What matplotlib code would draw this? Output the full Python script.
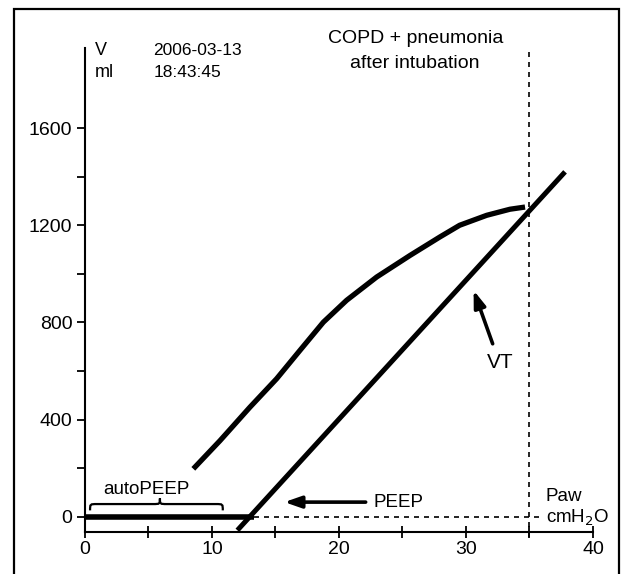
import numpy as np
import matplotlib
matplotlib.use("Agg")
import matplotlib.pyplot as plt
from matplotlib.patches import Rectangle, PathPatch
from matplotlib.path import Path

plt.rcParams['font.family'] = ['Liberation Sans', 'DejaVu Sans']

# upper (expiratory) limb
upper_p = [8.53, 10.63, 12.99, 15.09, 16.93, 18.77, 20.6, 22.97, 25.6, 27.95, 29.5, 31.63, 33.46, 34.65]
upper_v = [197, 313, 451, 568, 685, 801, 891, 987, 1076, 1152, 1200, 1241, 1266, 1275]
# lower (inspiratory) limb
lower_p = [12.0, 37.8]
lower_v = [-56, 1420]
# baseline at autoPEEP level
base_p = [0.0, 13.3]
base_v = [0, 0]
peak_p = 35
autopeep_span = [0.4, 10.85]

fig = plt.figure(figsize=(6.24, 5.74), dpi=100)
ax = fig.add_axes([0.1362, 0.0732, 0.8141, 0.8432])

ax.plot(upper_p, upper_v, color='black', lw=3.8, solid_capstyle='butt', solid_joinstyle='round')
ax.plot(lower_p, lower_v, color='black', lw=3.6, solid_capstyle='butt', clip_on=False)
ax.plot(base_p, base_v, color='black', lw=4.0, solid_capstyle='butt')
ax.plot([13.3, 36.0], [0, 0], color='black', lw=1.2, ls=(0, (3, 3)), clip_on=False)
ax.plot([peak_p, peak_p], [-85, 1930], color='black', lw=1.2, ls=(0, (3, 3)), clip_on=False)

ax.set_xlim(0, 40)
ax.set_ylim(-63, 1930)
ax.spines['top'].set_visible(False)
ax.spines['right'].set_visible(False)
ax.spines['left'].set_linewidth(1.5)
ax.spines['bottom'].set_linewidth(1.5)
ax.set_xticks([0, 10, 20, 30, 40])
ax.set_xticks([5, 15, 25, 35], minor=True)
ax.set_yticks([0, 400, 800, 1200, 1600])
ax.set_yticks([200, 600, 1000, 1400], minor=True)
ax.tick_params(axis='both', which='both', width=1.3, labelsize=14)
ax.tick_params(axis='x', which='both', direction='inout', length=9, pad=2)
ax.tick_params(axis='y', which='both', direction='out', length=6, pad=3)

# brace over autoPEEP
x0, x1 = autopeep_span
xc = 5.9
yb, ym, yt = 26, 52, 75
r = 0.55
verts = [(x0, yb), (x0, ym), (x0, ym), (x0 + r, ym),
         (xc - r, ym), (xc, ym), (xc, ym), (xc, yt),
         (xc, ym), (xc, ym), (xc + r, ym),
         (x1 - r, ym), (x1, ym), (x1, ym), (x1, yb)]
codes = [Path.MOVETO, Path.CURVE4, Path.CURVE4, Path.CURVE4,
         Path.LINETO, Path.CURVE4, Path.CURVE4, Path.CURVE4,
         Path.CURVE4, Path.CURVE4, Path.CURVE4,
         Path.LINETO, Path.CURVE4, Path.CURVE4, Path.CURVE4]
ax.add_patch(PathPatch(Path(verts, codes), fill=False, lw=1.6, color='black'))
ax.text(4.8, 112, 'autoPEEP', fontsize=13.5, ha='center', va='center')

# arrows
arrow = dict(arrowstyle='-|>,head_length=1.0,head_width=0.35', lw=2.6, color='black',
             shrinkA=0, shrinkB=0)
ax.annotate('', xy=(15.7, 60), xytext=(22.1, 60), arrowprops=arrow)
ax.text(22.7, 58, 'PEEP', fontsize=13.5, ha='left', va='center')
ax.annotate('', xy=(30.6, 932), xytext=(32.1, 712), arrowprops=arrow)
ax.text(32.7, 635, 'VT', fontsize=15, ha='center', va='center')

# labels
ax.text(0.8, 1920, 'V', fontsize=13, ha='left', va='center')
ax.text(0.8, 1830, 'ml', fontsize=13, ha='left', va='center')
ax.text(5.4, 1920, '2006-03-13', fontsize=12.5, ha='left', va='center')
ax.text(5.4, 1830, '18:43:45', fontsize=12.5, ha='left', va='center')
ax.text(26.0, 1971, 'COPD + pneumonia', fontsize=14, ha='center', va='center', clip_on=False)
ax.text(26.0, 1868, 'after intubation', fontsize=14, ha='center', va='center')
ax.text(36.3, 85, 'Paw', fontsize=13.5, ha='left', va='center')
ax.text(36.3, -5, r'cmH$_2$O', fontsize=13.5, ha='left', va='center')

fig.add_artist(Rectangle((0.0224, -0.05), 0.9696, 1.034, transform=fig.transFigure,
                         fill=False, lw=1.6, edgecolor='black'))

fig.savefig('out.png', dpi=100)
